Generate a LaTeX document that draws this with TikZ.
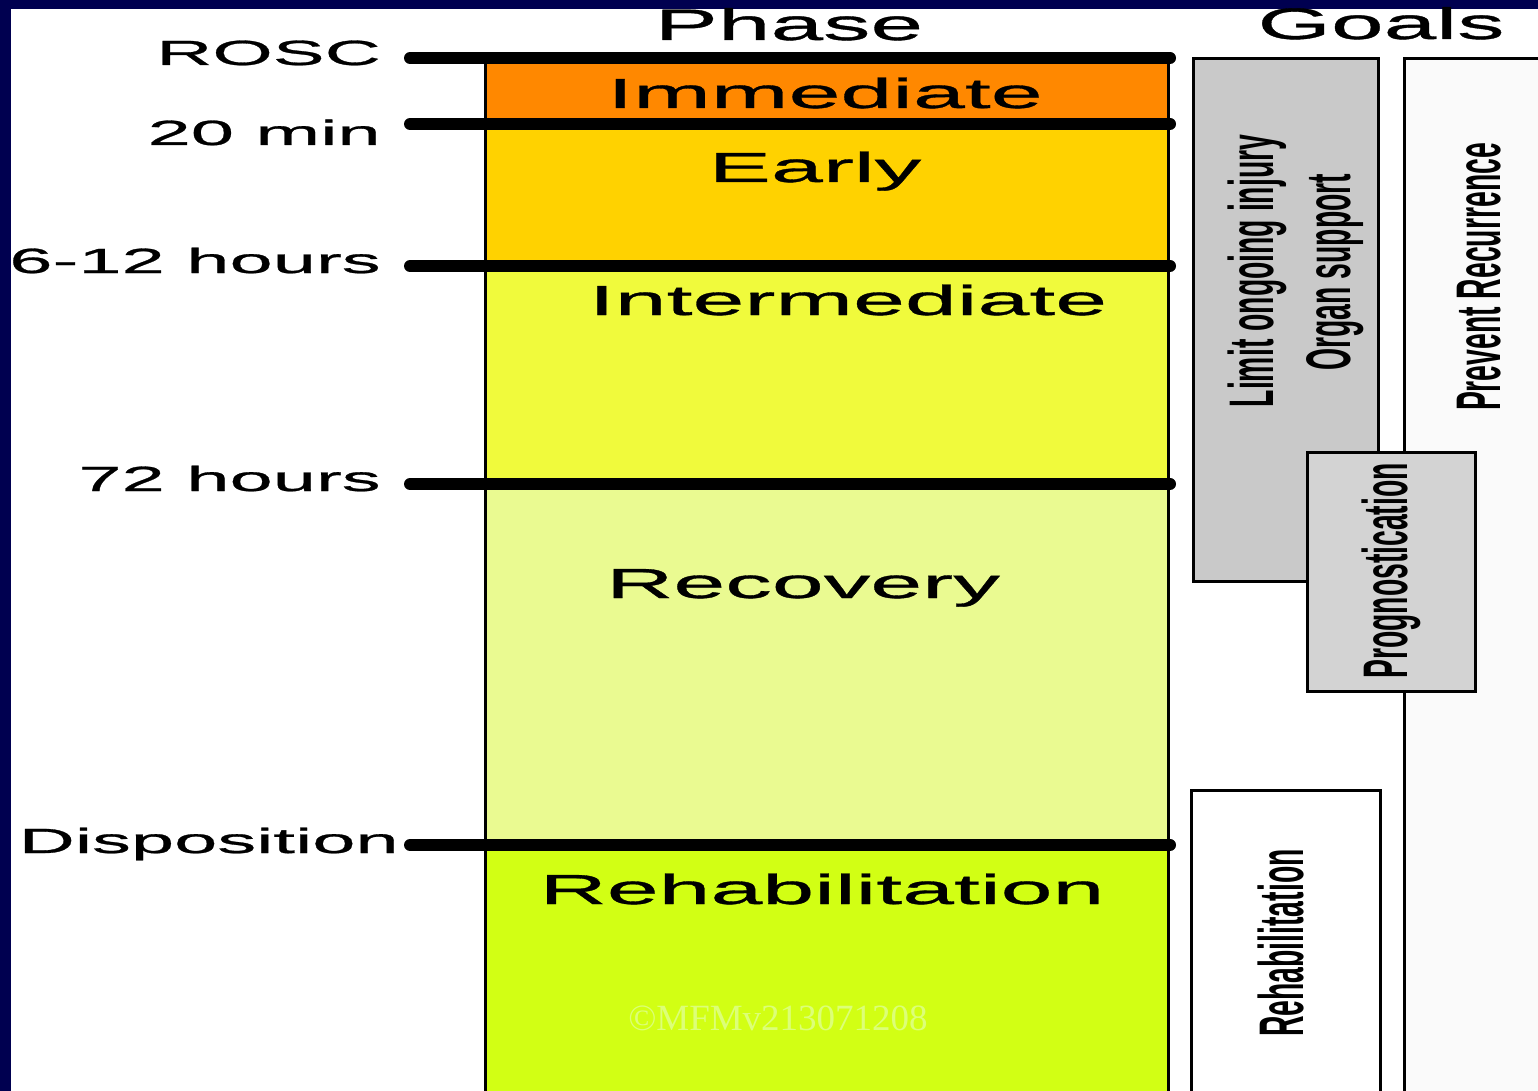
\documentclass[tikz,border=0pt]{standalone}
\usepackage{fontspec}
\setmainfont{Liberation Sans}
\newfontfamily\widefont[FakeStretch=2.22,FakeBold=0.8]{Liberation Sans}
\newfontfamily\headfont[FakeStretch=2.15,FakeBold=0.8]{Liberation Sans}
\newfontfamily\slimfont[FakeStretch=0.45]{Liberation Sans}
\newfontfamily\markfont{Liberation Serif}

\definecolor{navy}{RGB}{0,0,80}
\definecolor{cImmediate}{RGB}{255,136,0}
\definecolor{cEarly}{RGB}{255,210,0}
\definecolor{cInter}{RGB}{240,250,60}
\definecolor{cRecov}{RGB}{234,250,145}
\definecolor{cRehab}{RGB}{210,255,20}
\definecolor{cMark}{RGB}{220,255,120}
\definecolor{goalgray}{RGB}{201,201,201}
\definecolor{proggray}{RGB}{211,211,211}

\tikzset{
  tick/.style={line width=12pt, line cap=round},
  colline/.style={line width=3pt},
  timelabel/.style={font=\widefont\fontsize{35}{40}\selectfont, anchor=base east, inner sep=0pt},
  phaselabel/.style={font=\widefont\fontsize{42}{48}\selectfont, anchor=base, inner sep=0pt},
  headlabel/.style={font=\headfont\fontsize{44}{50}\selectfont, anchor=base, inner sep=0pt},
  goallabel/.style={font=\slimfont\bfseries\fontsize{63}{70}\selectfont, rotate=90, anchor=base, inner sep=0pt},
  goalbox/.style={draw=black, line width=3pt},
}

\begin{document}
\begin{tikzpicture}[x=1pt, y=-1pt]
  \useasboundingbox (0,0) rectangle (1538,1091);
  \clip (0,0) rectangle (1538,1091);
  \fill[white] (0,0) rectangle (1538,1091);

  % slide frame
  \fill[navy] (0,0) rectangle (1538,9);
  \fill[navy] (0,0) rectangle (11,1091);

  % phase column bands
  \fill[cImmediate] (485,58)  rectangle (1168,124);
  \fill[cEarly]     (485,124) rectangle (1168,266);
  \fill[cInter]     (485,266) rectangle (1168,484);
  \fill[cRecov]     (485,484) rectangle (1168,845);
  \fill[cRehab]     (485,845) rectangle (1168,1100);

  \coordinate (colTL) at (485,58);
  \coordinate (colBL) at (485,1100);
  \coordinate (colTR) at (1168,58);
  \coordinate (colBR) at (1168,1100);
  \draw[colline] (colTL) -- (colBL);
  \draw[colline] (colTR) -- (colBR);

  % time marks
  \foreach \n/\y in {rosc/58, twenty/124, six/266, seventy/484, disp/845}{
    \coordinate (\n L) at (410,\y);
    \coordinate (\n R) at (1170,\y);
    \draw[tick] (\n L) -- (\n R);
  }

  % time labels
  \node[timelabel] (lROSC) at (381,65)  {ROSC};
  \node[timelabel] (lTwenty) at (381,145) {20 min};
  \node[timelabel] (lSix) at (381,273) {6-12 hours};
  \node[timelabel] (lSeventy) at (381,491) {72 hours};
  \node[timelabel] (lDisp) at (399,853) {Disposition};

  % headers
  \node[headlabel] (hPhase) at (789,40) {Phase};
  \node[headlabel] (hGoals) at (1381,39) {Goals};

  % phase names
  \node[phaselabel] (pImm)   at (825,108) {Immediate};
  \node[phaselabel] (pEarly) at (815,182) {Early};
  \node[phaselabel] (pInter) at (848,315) {Intermediate};
  \node[phaselabel] (pRecov) at (803,598) {Recovery};
  \node[phaselabel] (pRehab) at (822,904) {Rehabilitation};

  % watermark
  \node[font=\markfont\fontsize{37}{40}\selectfont, text=cMark, anchor=base, inner sep=0pt]
    (mark) at (778,1030) {©MFMv213071208};

  % goal boxes
  \draw[goalbox, fill=goalgray] (1193,59) rectangle (1378,581);
  \draw[goalbox, fill=white!98!black] (1404,59) rectangle (1570,1120);
  \draw[goalbox, fill=proggray] (1307,452) rectangle (1475,691);
  \draw[goalbox, fill=white] (1191,790) rectangle (1380,1120);

  % goal texts
  \node[goallabel] (gLimit) at (1273,271) {Limit ongoing injury};
  \node[goallabel] (gOrgan) at (1350,272) {Organ support};
  \node[goallabel] (gPrev)  at (1500,277) {Prevent Recurrence};
  \node[goallabel] (gProg)  at (1407,571) {Prognostication};
  \node[goallabel] (gRehab) at (1303,943) {Rehabilitation};
\end{tikzpicture}
\end{document}
